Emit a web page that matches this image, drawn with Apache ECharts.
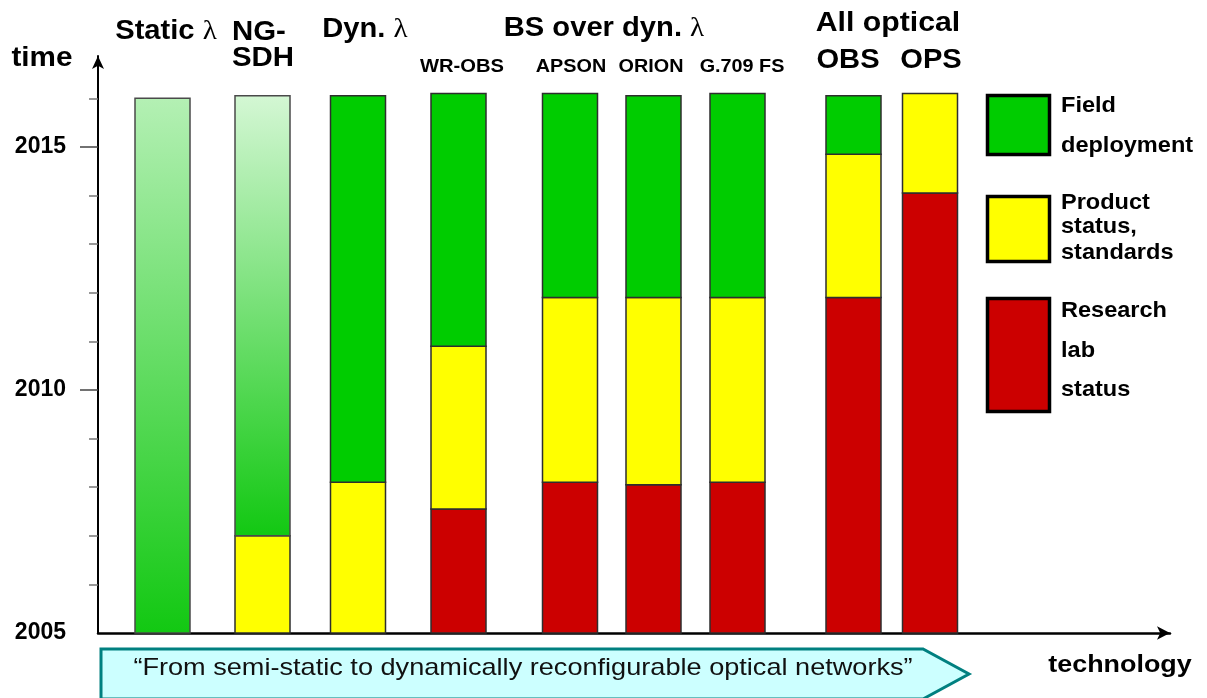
<!DOCTYPE html>
<html>
<head>
<meta charset="utf-8">
<title>Optical network technologies: research, standards and deployment timeline</title>
<script src="https://cdn.jsdelivr.net/npm/echarts@6/dist/echarts.min.js"></script>
<style>
  html, body { margin: 0; padding: 0; background: #ffffff; }
  #chart { width: 1207px; height: 698px; }
</style>
</head>
<body>
<div id="chart"></div>
<script>
// ---- data: year in which each phase ends (each phase starts where the previous one ended, first at 2005) ----
const technologies = ['Static λ', 'NG-SDH', 'Dyn. λ', 'WR-OBS', 'APSON', 'ORION', 'G.709 FS', 'OBS', 'OPS'];
const researchLabEnd     = [null,   null,    null,    2007.55, 2008.1, 2008.05, 2008.1, 2011.9,  2014.05];
const productStatusEnd   = [null,   2007.0,  2008.1,  2010.9,  2011.9, 2011.9,  2011.9, 2014.85, 2016.1];
const fieldDeploymentEnd = [2016.0, 2016.05, 2016.05, 2016.1,  2016.1, 2016.05, 2016.1, 2016.05, null];
const phaseNames = ['Research lab status', 'Product status, standards', 'Field deployment'];
const yearTickLabels = [2005, 2010, 2015];
const yearMinorTicks = [2006, 2007, 2008, 2009, 2011, 2012, 2013, 2014, 2016];

// ---- layout ----
const START_YEAR = 2005;
const AXIS_TOP_YEAR = 2016.87;          // where the time arrow ends
const X_AXIS_LENGTH = 10.72;            // technology axis extent (column slots)
const COLUMN_X = [0.645, 1.645, 2.6, 3.605, 4.72, 5.555, 6.395, 7.555, 8.32];
const BAR_WIDTH = 0.55;
const PHASE_COLORS = ['#cc0000', '#ffff00', '#00cc00'];
// semi-static columns: field deployment drawn as a fading gradient
const FADED_TOP = { 'Static λ': '#b4f0b4', 'NG-SDH': '#d4f7d4' };
const FADED_BOTTOM = '#12c812';
const FONT = 'Liberation Sans, Arial, sans-serif';

const phaseEnds = [researchLabEnd, productStatusEnd, fieldDeploymentEnd];
const phaseData = [[], [], []];
technologies.forEach((name, i) => {
  let start = START_YEAR;
  phaseEnds.forEach((ends, p) => {
    const end = ends[i];
    if (end != null) {
      phaseData[p].push([COLUMN_X[i], start, end, i]);
      start = end;
    }
  });
});

function makeRenderer(phase) {
  return function (params, api) {
    const x = api.value(0);
    const bottom = api.coord([x, api.value(1)]);
    const top = api.coord([x, api.value(2)]);
    const w = api.size([BAR_WIDTH, 0])[0];
    const name = technologies[api.value(3)];
    let fill = PHASE_COLORS[phase];
    let stroke = '#2e2e2e';
    if (phase === 2 && FADED_TOP[name]) {
      fill = new echarts.graphic.LinearGradient(0, 0, 0, 1, [
        { offset: 0, color: FADED_TOP[name] },
        { offset: 1, color: FADED_BOTTOM }
      ]);
      stroke = '#4a4a4a';
    }
    return {
      type: 'rect',
      shape: { x: top[0] - w / 2, y: top[1], width: w, height: bottom[1] - top[1] },
      style: { fill: fill, stroke: stroke, lineWidth: 1.5 }
    };
  };
}

const series = phaseData.map((data, p) => ({
  type: 'custom',
  name: phaseNames[p],
  renderItem: makeRenderer(p),
  encode: { x: 0, y: [1, 2] },
  data: data,
  z: 2
}));

// ---- text helpers for headings and legend ----
function label(text, x, y, size, opts) {
  opts = opts || {};
  return {
    type: 'text',
    x: x, y: y,
    scaleX: opts.scaleX || 1,
    z: 10,
    style: {
      text: text,
      fill: opts.color || '#000',
      font: (opts.weight || 'bold') + ' ' + size + 'px ' + FONT,
      textAlign: opts.align || 'center',
      textVerticalAlign: 'middle',
      rich: opts.rich
    }
  };
}
function lambdaLabel(prefix, x, y, size, scaleX) {
  return label('{t|' + prefix + '}{l|λ}', x, y, size, {
    scaleX: scaleX,
    rich: {
      t: { fontSize: size, fontWeight: 'bold', fontFamily: FONT, fill: '#000' },
      l: { fontSize: size, fontWeight: 'normal', fontFamily: 'Liberation Serif, serif', fill: '#000' }
    }
  });
}

const legendBoxes = [
  { y: 95.5, h: 59, color: PHASE_COLORS[2], lines: [['Field', 106], ['deployment', 146]] },
  { y: 196.5, h: 65, color: PHASE_COLORS[1], lines: [['Product', 203], ['status,', 227], ['standards', 253]] },
  { y: 298.5, h: 113, color: PHASE_COLORS[0], lines: [['Research', 311], ['lab', 351], ['status', 390]] }
];

const graphics = [];
// column headings
graphics.push(lambdaLabel('Static ', 166, 32, 27, 1.08));
graphics.push(label('NG-', 232, 32, 28, { align: 'left', scaleX: 1.05 }));
graphics.push(label('SDH', 232, 58, 28, { align: 'left', scaleX: 1.05 }));
graphics.push(lambdaLabel('Dyn. ', 365, 30, 27, 1.08));
graphics.push(lambdaLabel('BS over dyn. ', 604, 29, 27, 1.08));
graphics.push(label('WR-OBS', 462, 67, 18, { scaleX: 1.12 }));
graphics.push(label('APSON', 571, 67, 18, { scaleX: 1.1 }));
graphics.push(label('ORION', 651, 67, 18, { scaleX: 1.1 }));
graphics.push(label('G.709 FS', 742, 67, 18, { scaleX: 1.1 }));
graphics.push(label('All optical', 888, 23, 28, { scaleX: 1.08 }));
graphics.push(label('OBS', 848, 60, 28, { scaleX: 1.04 }));
graphics.push(label('OPS', 931, 60, 28, { scaleX: 1.04 }));
// axis names
graphics.push(label('time', 42, 58, 28, { scaleX: 1.06 }));
graphics.push(label('technology', 1120, 665, 24, { scaleX: 1.12 }));
// legend
legendBoxes.forEach(b => {
  graphics.push({
    type: 'rect', z: 10,
    shape: { x: 987.5, y: b.y, width: 62, height: b.h },
    style: { fill: b.color, stroke: '#000', lineWidth: 3.5 }
  });
  b.lines.forEach(([t, y]) => graphics.push(label(t, 1061, y, 22, { align: 'left', scaleX: 1.07 })));
});
// banner arrow
graphics.push({
  type: 'polygon', z: 5,
  shape: { points: [[101, 649], [923, 649], [969, 674], [923, 699], [101, 699]] },
  style: { fill: '#ccffff', stroke: '#008080', lineWidth: 3 }
});
graphics.push(label('\u201CFrom semi-static to dynamically reconfigurable optical networks\u201D', 523, 668, 24,
  { weight: 'normal', scaleX: 1.13, color: '#111' }));

const chart = echarts.init(document.getElementById('chart'), null, { renderer: 'canvas' });
chart.setOption({
  animation: false,
  backgroundColor: '#ffffff',
  textStyle: { fontFamily: FONT },
  grid: { left: 98, right: 37, top: 56, bottom: 65, containLabel: false },
  xAxis: {
    type: 'value', min: 0, max: X_AXIS_LENGTH,
    axisLine: { show: true, symbol: ['none', 'arrow'], symbolSize: [10, 13], lineStyle: { color: '#000', width: 2.5 } },
    axisTick: { show: false }, axisLabel: { show: false }, splitLine: { show: false }
  },
  yAxis: [{
    type: 'value', min: START_YEAR, max: AXIS_TOP_YEAR, interval: 1,
    axisLine: { show: true, symbol: ['none', 'arrow'], symbolSize: [9, 13], lineStyle: { color: '#000', width: 2 } },
    axisTick: { show: true, customValues: yearMinorTicks, length: 9, lineStyle: { color: '#777', width: 1.5 } },
    axisLabel: { show: false }, splitLine: { show: false }
  }, {
    type: 'value', min: START_YEAR, max: AXIS_TOP_YEAR, interval: 1, position: 'left',
    axisLine: { show: false },
    axisTick: { show: true, customValues: [2010, 2015], length: 18, lineStyle: { color: '#444', width: 1.5 } },
    axisLabel: {
      show: true, customValues: yearTickLabels, margin: 32,
      formatter: v => String(Math.round(v)),
      fontSize: 23, fontWeight: 'bold', color: '#000', fontFamily: FONT
    },
    splitLine: { show: false }
  }],
  graphic: { elements: graphics },
  series: series
});
</script>
</body>
</html>
